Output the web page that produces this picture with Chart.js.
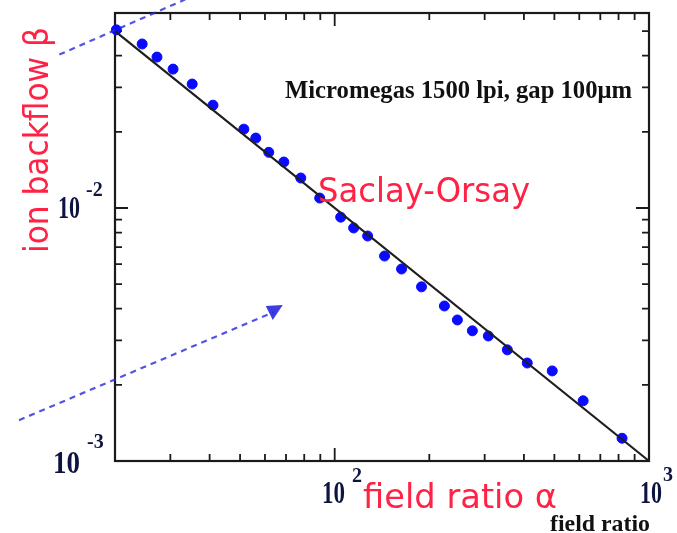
<!DOCTYPE html>
<html>
<head>
  <title>Ion backflow vs field ratio</title>
  <script src="https://cdn.jsdelivr.net/npm/chart.js"></script>
  <style>
    body { margin: 0; background: #fff; }
  </style>
</head>
<body>
  <canvas id="ibfChart" width="677" height="533"></canvas>

  <script>
    // measured points (field ratio alpha, ion backflow beta)
    const fieldRatio = [20.2, 24.4, 27.2, 30.6, 35.2, 41.0, 51.4, 56.1, 61.7, 68.9, 78.0, 89.6,
      104.5, 114.9, 127.3, 144.1, 163.2, 188.9, 223.4, 245.7, 274.2, 308.2, 354.2, 409.9,
      492.2, 617.3, 820.8];
    const backflow = [0.0506, 0.0445, 0.0395, 0.0354, 0.0309, 0.0255, 0.0205, 0.0189, 0.0166,
      0.0152, 0.01314, 0.01095, 0.0092, 0.00834, 0.00775, 0.00646, 0.00574, 0.00488, 0.0041,
      0.00361, 0.00327, 0.00312, 0.00275, 0.00244, 0.00227, 0.00173, 0.00123];

    // fit line beta = 1/alpha
    const fitX = [20, 1000];
    const fitY = [0.05, 0.001];

    const xMin = 20, xMax = 1000;
    const yMin = 0.001, yMax = 0.059;
    const xMinorTicks = [30, 40, 50, 60, 70, 80, 90, 200, 300, 400, 500, 600, 700, 800, 900];
    const xMajorTicks = [100];
    const yMinorTicks = [0.002, 0.003, 0.004, 0.005, 0.006, 0.007, 0.008, 0.009, 0.02, 0.03, 0.04, 0.05];
    const yMajorTicks = [0.01];

    // hand-drawn dashed arrows from the slide (in data units)
    const arrowTop = [[13.3, 0.0404], [33.5, 0.0668]];
    const arrowBottom = [[9.9, 0.00145], [64, 0.00388]];

    function fitText(ctx, s, x, y, font, color, w) {
      ctx.save();
      ctx.font = font;
      ctx.fillStyle = color;
      ctx.textBaseline = 'alphabetic';
      ctx.textAlign = 'left';
      const m = ctx.measureText(s).width;
      ctx.translate(x, y);
      if (w) ctx.scale(w / m, 1);
      ctx.fillText(s, 0, 0);
      ctx.restore();
    }

    function power(ctx, base, exp, x, y, wBase, xExp, yExp) {
      fitText(ctx, base, x, y, 'bold 31px "Liberation Serif"', '#0d1440', wBase);
      fitText(ctx, exp, xExp, yExp, 'bold 20px "Liberation Serif"', '#0d1440');
    }

    const framePlugin = {
      id: 'frame',
      beforeDatasetsDraw(chart) {
        const ctx = chart.ctx;
        const a = chart.chartArea;
        const xs = chart.scales.x, ys = chart.scales.y;
        ctx.save();
        ctx.strokeStyle = '#1a1a1a';
        ctx.lineWidth = 2.2;
        ctx.strokeRect(a.left, a.top, a.right - a.left, a.bottom - a.top);
        ctx.lineWidth = 1.8;
        ctx.beginPath();
        const xt = (v, len) => {
          const p = xs.getPixelForValue(v);
          ctx.moveTo(p, a.bottom); ctx.lineTo(p, a.bottom - len);
          ctx.moveTo(p, a.top); ctx.lineTo(p, a.top + len);
        };
        const yt = (v, len) => {
          const p = ys.getPixelForValue(v);
          ctx.moveTo(a.left, p); ctx.lineTo(a.left + len, p);
          ctx.moveTo(a.right, p); ctx.lineTo(a.right - len, p);
        };
        xMinorTicks.forEach(v => xt(v, 7));
        xMajorTicks.forEach(v => xt(v, 13));
        yMinorTicks.forEach(v => yt(v, 7));
        yMajorTicks.forEach(v => yt(v, 13));
        ctx.stroke();
        ctx.restore();
      },
      afterDraw(chart) {
        const ctx = chart.ctx;
        const xs = chart.scales.x, ys = chart.scales.y;
        const px = p => [xs.getPixelForValue(p[0]), ys.getPixelForValue(p[1])];

        // tick labels
        power(ctx, '10', '-2', 58, 218, 22, 86, 196);
        power(ctx, '10', '-3', 53, 473, 27, 87, 448);
        power(ctx, '10', '2', 322, 503, 23, 352, 482);
        power(ctx, '10', '3', 640, 503, 22, 663, 481);

        fitText(ctx, 'Micromegas 1500 lpi, gap 100\u03bcm', 285, 98, 'bold 26px "Liberation Serif"', '#111', 347);
        fitText(ctx, 'field ratio', 550, 531, 'bold 23px "Liberation Serif"', '#111', 100);

        // red slide annotations
        const red = '#ff2244';
        const rf = '33px "DejaVu Sans"';
        fitText(ctx, 'Saclay-Orsay', 318, 202, rf, red, 212);
        fitText(ctx, 'field ratio \u03b1', 363, 508, rf, red, 194);
        ctx.save();
        ctx.translate(48, 253);
        ctx.rotate(-Math.PI / 2);
        fitText(ctx, 'ion backflow \u03b2', 0, 0, rf, red, 226);
        ctx.restore();

        // dashed arrows
        ctx.save();
        ctx.strokeStyle = 'rgba(40, 40, 220, 0.8)';
        ctx.fillStyle = 'rgba(40, 40, 220, 0.9)';
        ctx.lineWidth = 2.2;
        ctx.setLineDash([6, 5]);
        [arrowTop, arrowBottom].forEach(seg => {
          const p0 = px(seg[0]), p1 = px(seg[1]);
          ctx.beginPath();
          ctx.moveTo(p0[0], p0[1]);
          ctx.lineTo(p1[0], p1[1]);
          ctx.stroke();
        });
        ctx.setLineDash([]);
        const tip = px(arrowBottom[1]);
        ctx.beginPath();
        ctx.moveTo(tip[0] - 8, tip[1] - 6);
        ctx.lineTo(tip[0] + 9, tip[1] - 7);
        ctx.lineTo(tip[0] - 1, tip[1] + 8);
        ctx.closePath();
        ctx.fill();
        ctx.restore();
      }
    };

    new Chart(document.getElementById('ibfChart'), {
      type: 'scatter',
      data: {
        datasets: [
          {
            label: 'fit',
            type: 'line',
            data: fitX.map((x, i) => ({ x, y: fitY[i] })),
            borderColor: '#1e1e1e',
            borderWidth: 2.2,
            pointRadius: 0,
            fill: false,
            clip: false
          },
          {
            label: 'Micromegas',
            data: fieldRatio.map((x, i) => ({ x, y: backflow[i] })),
            backgroundColor: '#0a0aff',
            borderColor: '#0a0aff',
            pointRadius: 5,
            clip: false
          }
        ]
      },
      options: {
        responsive: false,
        animation: false,
        layout: { padding: { left: 115, right: 28, top: 13, bottom: 72 } },
        plugins: { legend: { display: false }, tooltip: { enabled: false } },
        scales: {
          x: { type: 'logarithmic', min: xMin, max: xMax, display: false },
          y: { type: 'logarithmic', min: yMin, max: yMax, display: false }
        }
      },
      plugins: [framePlugin]
    });
  </script>
</body>
</html>
